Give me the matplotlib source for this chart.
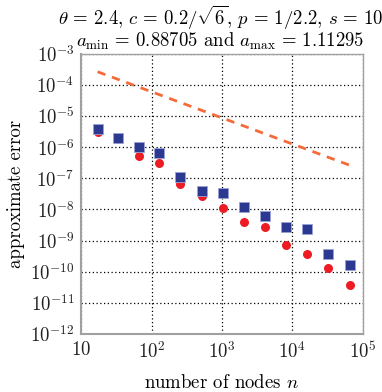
import numpy as np
import matplotlib
matplotlib.use("Agg")
import matplotlib.pyplot as plt

plt.rcParams['font.family'] = 'serif'
plt.rcParams['font.serif'] = ['cmr10']
plt.rcParams['mathtext.fontset'] = 'cm'
plt.rcParams['axes.formatter.use_mathtext'] = True
plt.rcParams['axes.unicode_minus'] = False

# data
nodes = [17, 33, 65, 129, 257, 513, 1025, 2049, 4097, 8193, 16385, 32769, 65537]
err_square_log = [-5.43, -5.72, -6.00, -6.20, -6.97, -7.40, -7.47, -7.91, -8.21, -8.58, -8.64, -9.42, -9.78]
err_circle_log = [-5.50, -5.75, -6.30, -6.52, -7.18, -7.56, -7.95, -8.42, -8.55, -9.15, -9.42, -9.87, -10.44]
ref_nodes = [17, 65537]
ref_err_log = [-3.58, -6.58]

err_square = 10.0 ** np.array(err_square_log)
err_circle = 10.0 ** np.array(err_circle_log)
ref_err = 10.0 ** np.array(ref_err_log)

fig = plt.figure(figsize=(3.82, 3.92), dpi=100)
ax = fig.add_axes([0.213, 0.148, 0.736, 0.715])

ax.plot(ref_nodes, ref_err, linestyle=(0, (3, 2.5)), color='#f26b38', linewidth=2.0)
ax.plot(nodes, err_circle, 'o', color='#ed1c24', markersize=6.5, markeredgewidth=0, zorder=3)
ax.plot(nodes, err_square, 's', color='#2b3990', markersize=7.2,
        markeredgecolor='#9aa3d6', markeredgewidth=0.6, zorder=4)

ax.set_xscale('log')
ax.set_yscale('log')
ax.set_xlim(10, 1e5)
ax.set_ylim(1e-12, 1e-3)
ax.set_xticks([1e1, 1e2, 1e3, 1e4, 1e5])
ax.set_xticklabels(['$10$', '$10^2$', '$10^3$', '$10^4$', '$10^5$'])
ax.set_yticks([10.0 ** k for k in range(-12, -2)])
ax.set_yticklabels(['$10^{%d}$' % k for k in range(-12, -2)])
ax.minorticks_off()
ax.tick_params(length=0, labelsize=13.5, pad=5, colors='#222222')
ax.grid(True, which='major', linestyle=(0, (1, 2)), color='black', linewidth=0.9)
for s in ax.spines.values():
    s.set_color('#a0a0a0')
    s.set_linewidth(1.0)
ax.spines['left'].set_linewidth(1.5)
ax.spines['bottom'].set_linewidth(1.5)

ax.set_xlabel('number of nodes $n$', fontsize=13.5, labelpad=9)
ax.set_ylabel('approximate error', fontsize=13.5, labelpad=4)
ax.set_title('$\\theta\\,=\\,2.4$, $c\\,=\\,0.2/\\sqrt{6}$, $p\\,=\\,1/2.2$, $s\\,=\\,10$\n'
             '$a_{\\min}\\,=\\,0.88705$ and $a_{\\max}\\,=\\,1.11295$', fontsize=13.5, pad=5,
             linespacing=0.95, x=0.495)

fig.savefig('out.png', dpi=100)
